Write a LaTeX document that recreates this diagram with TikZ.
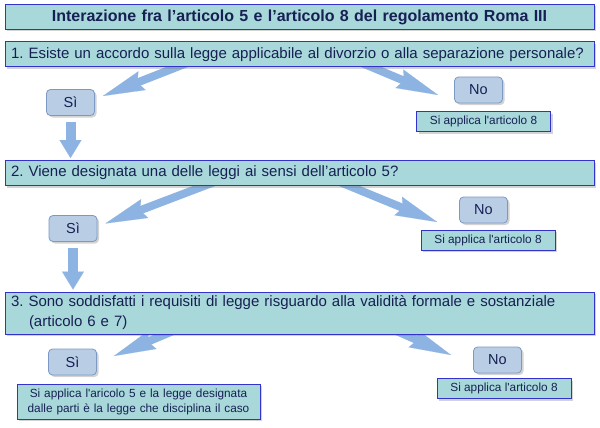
\documentclass[tikz,border=0pt]{standalone}
\usepackage{fontspec}
\setmainfont{Liberation Sans}
\usetikzlibrary{arrows.meta, shadows, backgrounds}

\definecolor{boxteal}{RGB}{168,216,218}
\definecolor{boxline}{RGB}{51,51,204}
\definecolor{choicefill}{RGB}{185,205,229}
\definecolor{choiceline}{RGB}{124,152,196}
\definecolor{arrowblue}{RGB}{141,179,226}
\definecolor{textnavy}{RGB}{23,32,84}

\tikzset{
    boxshadow/.style={drop shadow={shadow xshift=2pt, shadow yshift=-2pt, opacity=0.35}},
    qbox/.style={draw=boxline, line width=1pt, fill=boxteal, text=textnavy, boxshadow,
        minimum height=25pt, text width=577pt, inner xsep=6pt, inner ysep=2pt, align=left,
        font=\fontsize{15}{20}\selectfont\frenchspacing},
    titlebox/.style={qbox, align=center, font=\fontsize{16}{18}\selectfont\bfseries\frenchspacing},
    choice/.style={draw=choiceline, line width=0.8pt, fill=choicefill, rounded corners=4pt,
        text=textnavy, boxshadow, minimum width=48pt, minimum height=26pt,
        font=\fontsize{14.5}{16}\selectfont},
    result/.style={draw=boxline, line width=1pt, fill=boxteal, text=textnavy, boxshadow,
        minimum width=134pt, minimum height=20pt, inner xsep=4pt, inner ysep=2pt, align=center,
        font=\fontsize{11.8}{15}\selectfont},
    bigarrow/.style={draw=arrowblue, line width=8pt,
        -{Stealth[length=42pt, width=20pt, inset=5pt, line width=0.1pt]}},
    downarrow/.style={draw=arrowblue, line width=10pt,
        -{Triangle[length=18pt, width=22pt, line width=0.1pt]}}
}

\begin{document}
\begin{tikzpicture}[x=1pt, y=-1pt]
    \useasboundingbox (0, 0) rectangle (600, 428);

    \node[titlebox] (title) at (299.5, 17) {Interazione fra l’articolo 5 e l’articolo 8 del regolamento Roma III};

    \node[qbox] (q1) at (299.5, 54.5) {1. Esiste un accordo sulla legge applicabile al divorzio o alla separazione personale?};
    \node[choice] (si1) at (70.5, 102.5) {Sì};
    \node[choice] (no1) at (478.5, 90) {No};
    \node[result] (r1) at (483.5, 121.5) {Si applica l\textquotesingle articolo 8};

    \node[qbox] (q2) at (299.5, 173) {2. Viene designata una delle leggi ai sensi dell’articolo 5?};
    \node[choice] (si2) at (73, 228.5) {Sì};
    \node[choice] (no2) at (483.5, 210) {No};
    \node[result] (r2) at (488, 240) {Si applica l\textquotesingle articolo 8};

    \node[qbox, minimum height=42pt] (q3) at (299.5, 313) {3. Sono soddisfatti i requisiti di legge risguardo alla validità formale e sostanziale\\\hspace*{18pt}(articolo 6 e 7)};
    \node[choice] (si3) at (72.5, 362) {Sì};
    \node[choice] (no3) at (497.5, 360) {No};
    \node[result] (r3) at (504, 388.5) {Si applica l\textquotesingle articolo 8};
    \node[result, text width=235pt, minimum height=35pt] (r4) at (138.5, 401.5) {Si applica l\textquotesingle aricolo 5 e la legge designata\\dalle parti è la legge che disciplina il caso};

    \coordinate (t1l) at (200, 58);
    \coordinate (t1r) at (350, 58);
    \coordinate (t2l) at (225, 178);
    \coordinate (t2r) at (330, 178);
    \coordinate (t3l) at (185, 326);
    \coordinate (t3r) at (385, 326);

    \begin{scope}[on background layer]
        \draw[bigarrow] (t1l) -- ([xshift=8pt, yshift=6.5pt]si1.east);
        \draw[bigarrow] (t1r) -- ([xshift=-16pt, yshift=-5pt]no1.west);
        \draw[bigarrow] (t2l) -- ([xshift=8pt, yshift=5pt]si2.east);
        \draw[bigarrow] (t2r) -- ([xshift=-22pt, yshift=-12pt]no2.west);
        \draw[bigarrow] (t3l) -- ([xshift=17pt, yshift=6pt]si3.east);
        \draw[bigarrow] (t3r) -- ([xshift=-22pt, yshift=5pt]no3.west);
    \end{scope}

    \foreach \a/\b in {si1/q2, si2/q3} {
        \draw[downarrow] ([yshift=-6pt]\a.south) -- ([yshift=2pt]\a.south |- \b.north);
    }
\end{tikzpicture}
\end{document}
